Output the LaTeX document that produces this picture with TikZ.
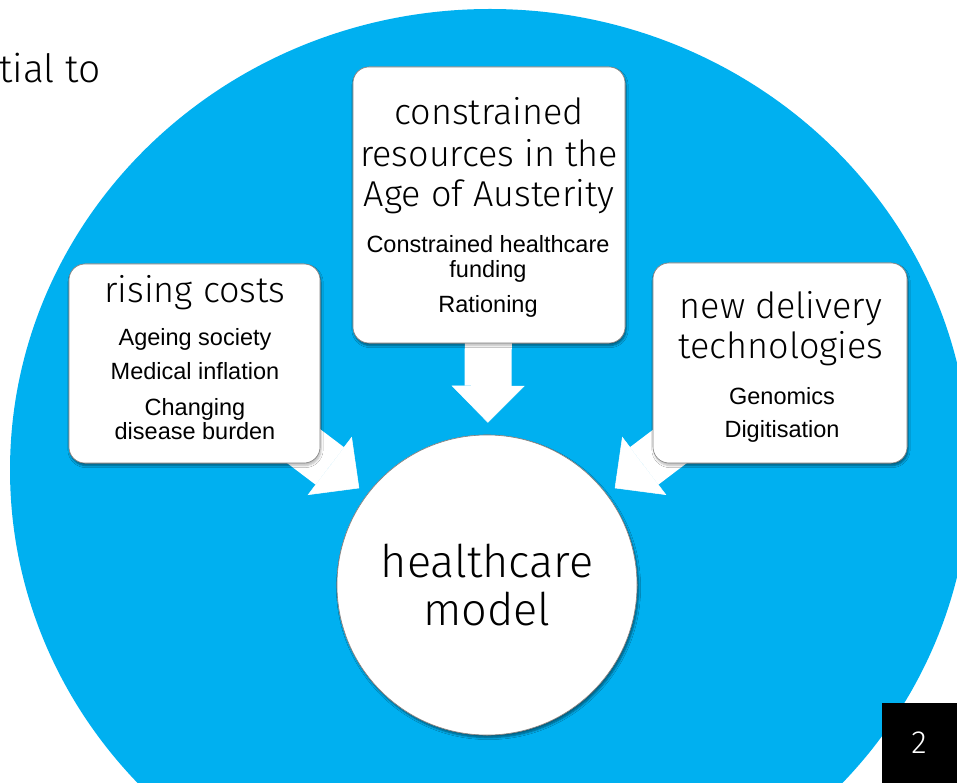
\documentclass[tikz,border=0pt]{standalone}
\usepackage{fontspec}
\setmainfont{Liberation Sans}
\newfontfamily\lightfont{Fira Sans Light}
\usetikzlibrary{arrows.meta,shadows,shadows.blur}
\definecolor{skyblue}{RGB}{0,176,240}
\definecolor{edgegray}{RGB}{130,130,130}

\tikzset{
  card/.style={draw=edgegray, line width=0.6pt, fill=white, rounded corners=16pt,
    blur shadow={shadow xshift=1pt, shadow yshift=-2.5pt, shadow blur steps=6, shadow opacity=28}},
  hub/.style={circle, draw=edgegray, line width=0.6pt, fill=white, minimum size=300pt, inner sep=0pt,
    blur shadow={shadow xshift=1.5pt, shadow yshift=-2.5pt, shadow blur steps=6, shadow opacity=28}},
  bigarrow/.style={draw=white, line width=47pt, line cap=butt,
    -{Triangle[width=73pt, length=37pt, line width=0.5pt]}},
  heading/.style={font=\lightfont\fontsize{36}{41}\selectfont, anchor=base, inner sep=0pt},
  item/.style={font=\fontsize{23.5}{26}\selectfont, anchor=base, inner sep=0pt},
  hubtext/.style={font=\lightfont\fontsize{45}{50}\selectfont, anchor=base, inner sep=0pt},
}

\begin{document}
\begin{tikzpicture}[x=1pt, y=-1pt]
\useasboundingbox (0,0) rectangle (957,783);

% background disc
\begin{scope}
  \clip (0,0) rectangle (957,783);
  \fill[skyblue] (490,470) ellipse [x radius=480, y radius=461];
\end{scope}

% slide title fragment
\node[font=\lightfont\fontsize{39}{46}\selectfont, anchor=base east, inner sep=0pt] (slidetitle) at (101,83) {tial to};

% node frames (placed first so arrows can refer to them)
\path
  node[card, minimum width=251pt, minimum height=199pt] (costs) at (194.5,363.5) {}
  node[card, minimum width=272pt, minimum height=276pt] (resources) at (489,205) {}
  node[card, minimum width=254pt, minimum height=200pt] (tech) at (780,363) {}
  node[hub] (model) at (487,585) {};

% arrows
\draw[bigarrow, shorten >=10pt] (costs.center) -- (model);
\draw[bigarrow, shorten >=12pt] (resources.center) -- (model);
\draw[bigarrow, shorten >=10pt] (tech.center) -- (model);

% frames on top of the arrow shafts
\node[card, minimum width=251pt, minimum height=199pt] (costsbox) at (costs) {};
\node[card, minimum width=272pt, minimum height=276pt] (resourcesbox) at (resources) {};
\node[card, minimum width=254pt, minimum height=200pt] (techbox) at (tech) {};
\node[hub] (modelbox) at (model) {};

% rising costs
\node[heading] (costsT) at (195,302) {rising costs};
\node[item] (costs1) at (195,345) {Ageing society};
\node[item] (costs2) at (195,379) {Medical inflation};
\node[item] (costs3) at (195,415) {Changing};
\node[item] (costs4) at (195,439) {disease burden};

% constrained resources
\node[heading] (resT1) at (489,125) {constrained};
\node[heading] (resT2) at (489,167) {resources in the};
\node[heading] (resT3) at (489,207) {Age of Austerity};
\node[item] (res1) at (488,253) {Constrained healthcare};
\node[item] (res2) at (488,277) {funding};
\node[item] (res3) at (488,312) {Rationing};

% new delivery technologies
\node[heading] (techT1) at (781,318) {new delivery};
\node[heading] (techT2) at (781,358) {technologies};
\node[item] (tech1) at (782,404) {Genomics};
\node[item] (tech2) at (782,437) {Digitisation};

% centre
\node[hubtext] (modelT1) at (487,577) {healthcare};
\node[hubtext] (modelT2) at (487,625) {model};

% page number
\fill[black] (882,703) rectangle (957,783);
\node[font=\lightfont\fontsize{32}{36}\selectfont, text=white, inner sep=0pt] (pagenum) at (919,743) {2};
\end{tikzpicture}
\end{document}
